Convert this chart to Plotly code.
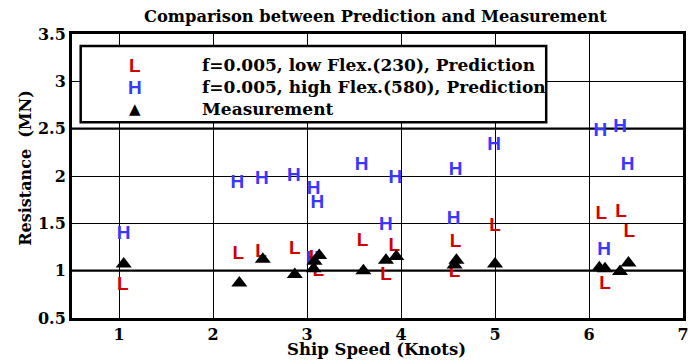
import plotly.graph_objects as go

# Low flexibility prediction (L)
low_x = [1.04, 2.27, 2.51, 2.87, 3.08, 3.12, 3.59, 3.84, 3.93, 4.58, 4.57, 5.00, 6.13, 6.17, 6.34, 6.43]
low_y = [0.85, 1.17, 1.19, 1.23, 1.13, 0.99, 1.31, 0.95, 1.26, 1.30, 0.98, 1.47, 1.60, 0.86, 1.62, 1.41]

# High flexibility prediction (H)
high_x = [1.05, 2.26, 2.52, 2.86, 3.06, 3.07, 3.11, 3.58, 3.84, 3.94, 4.56, 4.58, 4.99, 6.12, 6.16, 6.33, 6.41]
high_y = [1.39, 1.92, 1.97, 2.00, 1.12, 1.86, 1.71, 2.11, 1.48, 1.98, 1.54, 2.06, 2.32, 2.47, 1.22, 2.51, 2.11]

# Measurement
meas_x = [1.05, 2.28, 2.53, 2.87, 3.07, 3.08, 3.13, 3.60, 3.84, 3.95, 4.57, 4.59, 5.00, 6.11, 6.17, 6.33, 6.42]
meas_y = [1.07, 0.87, 1.12, 0.96, 1.02, 1.10, 1.16, 1.00, 1.11, 1.15, 1.06, 1.11, 1.07, 1.03, 1.02, 0.99, 1.08]

x_ticks = [1, 2, 3, 4, 5, 6, 7]
y_ticks = [0.5, 1, 1.5, 2, 2.5, 3, 3.5]
y_tick_labels = ["0.5", "1", "1.5", "2", "2.5", "3", "3.5"]

legend_labels = ["f=0.005, low Flex.(230), Prediction",
                 "f=0.005, high Flex.(580), Prediction",
                 "Measurement"]

RED = "#d40000"
BLUE = "#3838ff"
SERIF = "DejaVu Serif"
SANS = "Liberation Sans"

fig = go.Figure()
fig.add_trace(go.Scatter(x=high_x, y=high_y, mode="text", text=["H"] * len(high_x),
                         textfont=dict(family=SANS, size=19, color=BLUE, weight="bold"),
                         textposition="middle center", showlegend=False))
fig.add_trace(go.Scatter(x=low_x, y=low_y, mode="text", text=["L"] * len(low_x),
                         textfont=dict(family=SANS, size=19, color=RED, weight="bold"),
                         textposition="middle center", showlegend=False))
fig.add_trace(go.Scatter(x=meas_x, y=meas_y, mode="markers",
                         marker=dict(symbol="triangle-up", size=14, color="black"),
                         showlegend=False))

# heavier reference lines
for yv, w in [(1, 2.2), (2.5, 2.2)]:
    fig.add_shape(type="line", xref="paper", yref="y", x0=0, x1=1, y0=yv, y1=yv,
                  line=dict(color="black", width=w), layer="between")

# pixel -> paper helpers based on plot area
L0, R0, T0, B0 = 72.3, 683.3, 33.5, 318.5
def px(xp):
    return (xp - L0) / (R0 - L0)
def py(yp):
    return (B0 - yp) / (B0 - T0)

# manual legend box
fig.add_shape(type="rect", xref="paper", yref="paper",
              x0=px(81), x1=px(546.5), y0=py(122), y1=py(45.5),
              line=dict(color="black", width=2.5), fillcolor="white", layer="above")

sym_cols = [("L", RED), ("H", BLUE), ("▲", "black")]
rows_y = [65, 87, 108.5]
for (sym, col), lab, yy in zip(sym_cols, legend_labels, rows_y):
    if sym == "▲":
        fig.add_annotation(xref="paper", yref="paper", x=px(135), y=py(yy), text=sym,
                           showarrow=False, font=dict(family="DejaVu Sans", size=15, color=col),
                           xanchor="center", yanchor="middle")
    else:
        fig.add_annotation(xref="paper", yref="paper", x=px(135), y=py(yy), text=sym,
                           showarrow=False, font=dict(family=SANS, size=19, color=col, weight="bold"),
                           xanchor="center", yanchor="middle")
    fig.add_annotation(xref="paper", yref="paper", x=px(200), y=py(yy), text=lab,
                       showarrow=False, font=dict(family=SERIF, size=17, color="black", weight="bold"),
                       xanchor="left", yanchor="middle")

# title and axis titles
fig.add_annotation(xref="paper", yref="paper", x=px(376), y=py(16),
                   text="Comparison between Prediction and Measurement", showarrow=False,
                   font=dict(family=SERIF, size=16.3, color="black", weight="bold"),
                   xanchor="center", yanchor="middle")
fig.add_annotation(xref="paper", yref="paper", x=px(377), y=py(350),
                   text="Ship Speed (Knots)", showarrow=False,
                   font=dict(family=SERIF, size=16.5, color="black", weight="bold"),
                   xanchor="center", yanchor="middle")
fig.add_annotation(xref="paper", yref="paper", x=px(25), y=py(168),
                   text="Resistance  (MN)", showarrow=False, textangle=-90,
                   font=dict(family=SERIF, size=16, color="black", weight="bold"),
                   xanchor="center", yanchor="middle")

fig.update_layout(
    width=696, height=364,
    margin=dict(l=72.3, r=696 - 683.3, t=33.5, b=364 - 318.5),
    paper_bgcolor="white", plot_bgcolor="white",
    showlegend=False,
)
fig.update_xaxes(range=[0.5, 7], tickvals=x_ticks, showgrid=True, gridcolor="black", gridwidth=1,
                 showline=True, linecolor="black", linewidth=3, mirror=True, ticks="",
                 zeroline=False, automargin=False,
                 tickfont=dict(family=SERIF, size=16, color="black", weight="bold"))
fig.update_yaxes(range=[0.5, 3.5], tickvals=y_ticks, ticktext=y_tick_labels,
                 showgrid=True, gridcolor="black", gridwidth=1,
                 showline=True, linecolor="black", linewidth=3, mirror=True, ticks="",
                 zeroline=False, automargin=False,
                 tickfont=dict(family=SERIF, size=16, color="black", weight="bold"))

fig.write_html("out.html")
